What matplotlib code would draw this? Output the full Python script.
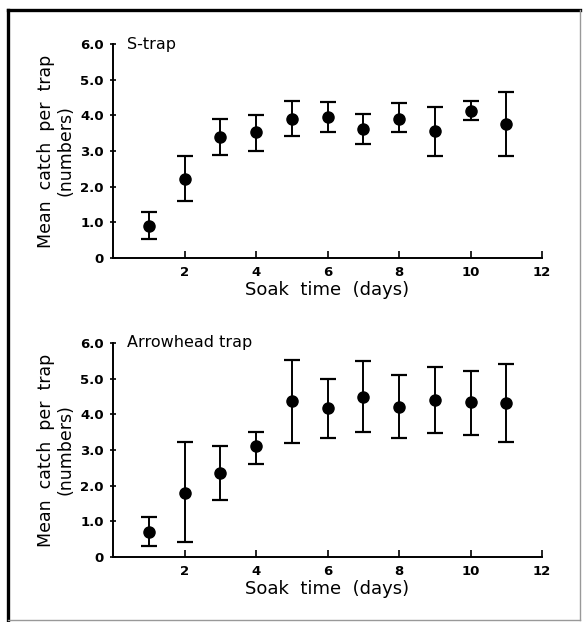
import numpy as np
import matplotlib.pyplot as plt
from matplotlib.lines import Line2D

plt.rcParams['font.family'] = ['DejaVu Sans']

days = [1, 2, 3, 4, 5, 6, 7, 8, 9, 10, 11]

# S-trap: mean, lower and upper end of the error bars
s_mean = [0.89, 2.21, 3.39, 3.53, 3.91, 3.96, 3.63, 3.90, 3.55, 4.12, 3.76]
s_low = [0.53, 1.60, 2.90, 2.99, 3.43, 3.54, 3.21, 3.54, 2.86, 3.87, 2.85]
s_high = [1.29, 2.87, 3.89, 4.01, 4.41, 4.37, 4.03, 4.35, 4.24, 4.41, 4.66]

# Arrowhead trap
a_mean = [0.70, 1.79, 2.36, 3.10, 4.36, 4.17, 4.49, 4.21, 4.39, 4.34, 4.32]
a_low = [0.31, 0.43, 1.61, 2.62, 3.20, 3.34, 3.50, 3.33, 3.49, 3.42, 3.23]
a_high = [1.12, 3.22, 3.12, 3.50, 5.53, 4.99, 5.50, 5.11, 5.33, 5.21, 5.41]

yticks = [0, 1, 2, 3, 4, 5, 6]
ytick_labels = ['0', '1.0', '2.0', '3.0', '4.0', '5.0', '6.0']
xticks = [2, 4, 6, 8, 10, 12]

W, H = 583, 622
fig = plt.figure(figsize=(W / 100, H / 100), dpi=100)

# frame round the whole figure: heavy left/top, light right/bottom
L, R, T, B = 8 / W, 580 / W, 1 - 10 / H, 1 - 620 / H
fig.add_artist(Line2D([L, L], [B, T], color='black', lw=2.4, transform=fig.transFigure))
fig.add_artist(Line2D([L, R], [T, T], color='black', lw=2.4, transform=fig.transFigure))
fig.add_artist(Line2D([R, R], [B, T], color='0.6', lw=1.0, transform=fig.transFigure))
fig.add_artist(Line2D([L, R], [B, B], color='0.6', lw=1.0, transform=fig.transFigure))


def panel(rect, mean, low, high, title):
    ax = fig.add_axes(rect)
    mean = np.array(mean)
    err = [mean - np.array(low), np.array(high) - mean]
    ax.errorbar(days, mean, yerr=err, fmt='o', color='black', markersize=8,
                elinewidth=1.4, capsize=5.5, capthick=1.6)
    ax.set_xlim(0, 12)
    ax.set_ylim(0, 6)
    ax.spines['top'].set_visible(False)
    ax.spines['right'].set_visible(False)
    ax.spines['left'].set_linewidth(1.4)
    ax.spines['bottom'].set_linewidth(1.4)
    ax.set_yticks(yticks)
    ax.set_yticklabels(ytick_labels, fontsize=9.5, fontweight='bold')
    ax.set_xticks(xticks)
    ax.set_xticklabels([str(v) for v in xticks], fontsize=9.5, fontweight='bold')
    ax.tick_params(axis='y', direction='inout', length=5, width=1.2, pad=4)
    ax.tick_params(axis='x', direction='in', length=5, width=1.2, pad=6)
    ax.set_xlabel('Soak  time  (days)', fontsize=13, labelpad=1)
    ax.set_ylabel('Mean  catch  per  trap\n(numbers)', fontsize=12.5,
                  linespacing=1.1, labelpad=4)
    ax.text(0.38, 6.0, title, fontsize=11.5, va='center', ha='left')
    return ax


panel([113 / W, 1 - 258 / H, 429 / W, 214 / H], s_mean, s_low, s_high, 'S-trap')
panel([113 / W, 1 - 557 / H, 429 / W, 214 / H], a_mean, a_low, a_high, 'Arrowhead trap')

fig.savefig('out.png', dpi=100)
